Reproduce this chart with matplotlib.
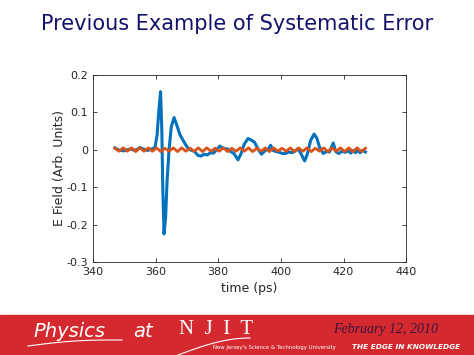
import matplotlib.pyplot as plt
import numpy as np
from matplotlib.patches import Rectangle

# blue trace (time in ps, field in arb. units)
t_blue = [347, 348, 349, 350, 351, 352, 353, 354, 355, 356, 357.5, 359, 359.8,
          360.5, 361, 361.6, 362, 362.3, 362.7, 363.2, 363.7, 364.3, 365, 365.9,
          366.8, 367.8, 369, 370, 371, 372.5, 373.5, 374.5, 375.5, 376.5, 377.5,
          378.5, 379.5, 380.5, 381.5, 383, 384, 385, 386.3, 387.3, 388.3, 389.5,
          390.5, 391.6, 392.5, 393.8, 395, 396, 396.7, 397.5, 398.5, 399.5, 400.5,
          401.5, 402.5, 403.5, 404.5, 405.5, 406.5, 407.6, 408.5, 409.5, 410.6,
          411.5, 412.4, 413.5, 414.5, 415.5, 416.7, 417.5, 418.5, 419.5, 420.5,
          421.5, 422.3, 423, 423.8, 424.5, 425.3, 426, 427]
e_blue = [0.005, 0.0, -0.002, -0.003, 0.0, 0.002, -0.001, 0.0, 0.006, 0.002, -0.002,
          0.003, 0.005, 0.04, 0.10, 0.155, 0.05, -0.10, -0.225, -0.18, -0.08, 0.0,
          0.06, 0.086, 0.065, 0.04, 0.022, 0.008, 0.0, -0.005, -0.015, -0.017,
          -0.012, -0.014, -0.008, -0.009, 0.0, 0.01, 0.004, 0.002, -0.005, -0.01,
          -0.027, -0.01, 0.015, 0.03, 0.026, 0.02, 0.005, -0.012, -0.002, 0.002,
          0.012, -0.002, -0.005, -0.007, -0.01, -0.01, -0.006, -0.008, -0.004,
          0.003, -0.012, -0.03, -0.01, 0.025, 0.042, 0.03, 0.005, -0.01, -0.005,
          -0.006, 0.018, -0.005, -0.01, -0.004, -0.007, -0.003, -0.009, -0.002,
          -0.008, -0.002, -0.008, -0.002, -0.006]

# orange trace, extremes of the small ripple
e_orange = [0.004, -0.004, 0.005, -0.004, 0.005, -0.005, 0.005, -0.004, 0.005, -0.004,
            0.005, -0.005, 0.004, -0.004, 0.005, -0.005, 0.005, -0.004, 0.004, -0.004,
            0.005, -0.005, 0.005, -0.004, 0.004, -0.004, 0.005, -0.005, 0.004, -0.004,
            0.005, -0.004, 0.005, -0.005, 0.004, -0.004, 0.005, -0.005, 0.005, -0.004,
            0.004, -0.004, 0.005, -0.005, 0.005, -0.004, 0.005, -0.005, 0.004, -0.004,
            0.005, -0.005, 0.005, -0.004, 0.005, -0.005, 0.005, -0.005, 0.005, -0.005,
            0.004]
t_orange = np.linspace(347, 427, len(e_orange))

x_ticks = [340, 360, 380, 400, 420, 440]
y_ticks = [-0.3, -0.2, -0.1, 0, 0.1, 0.2]
y_labels = ['-0.3', '-0.2', '-0.1', '0', '0.1', '0.2']

fig = plt.figure(figsize=(4.74, 3.55), dpi=100)

fig.text(0.5, 0.932, 'Previous Example of Systematic Error', ha='center', va='center',
         fontsize=15, color='#12126a', family='DejaVu Sans')

ax = fig.add_axes([0.196, 0.262, 0.661, 0.527])
ax.plot(t_blue, e_blue, color='#0072BD', lw=2.2)
ax.plot(t_orange, e_orange, color='#D95319', lw=2.0)
ax.set_xlim(340, 440)
ax.set_ylim(-0.3, 0.2)
ax.set_xticks(x_ticks)
ax.set_yticks(y_ticks)
ax.set_yticklabels(y_labels)
ax.tick_params(direction='in', top=True, right=True, labelsize=8, colors='#262626',
               length=3, width=0.6)
for s in ax.spines.values():
    s.set_color('#262626')
    s.set_linewidth(0.6)
ax.set_xlabel('time (ps)', fontsize=9, color='#262626', labelpad=4)
ax.set_ylabel('E Field (Arb. Units)', fontsize=9, color='#262626', labelpad=0)

# footer banner
fig.patches.append(Rectangle((0, 0), 1, 40 / 355, transform=fig.transFigure,
                             color='#d42a2f', zorder=0))
fig.text(33 / 474, 1 - 337 / 355, 'Physics', color='white', fontsize=14,
         style='italic', family='DejaVu Sans', va='baseline')
fig.text(133 / 474, 1 - 337 / 355, 'at', color='white', fontsize=14, style='italic',
         family='DejaVu Sans', va='baseline')
fig.text(179 / 474, 1 - 334 / 355, 'N  J  I  T', color='white', fontsize=15,
         family='Liberation Serif', va='baseline')
fig.text(213 / 474, 1 - 349 / 355, "New Jersey's Science & Technology University",
         color='white', fontsize=3.9, va='baseline')
fig.text(333 / 474, 1 - 333 / 355, 'February 12, 2010', color='#3a1540', fontsize=10,
         style='italic', family='Liberation Serif', va='baseline')
fig.text(352 / 474, 1 - 349 / 355, 'THE EDGE IN KNOWLEDGE', color='white', fontsize=5.3,
         style='italic', weight='bold', va='baseline')

# white swooshes
sx = np.linspace(28, 122, 30)
sy = 346 - 6 * (sx - 28) / 94 - 2 * np.sin(np.pi * (sx - 28) / 94)
fig.add_artist(plt.Line2D(sx / 474, 1 - sy / 355, color='white', lw=0.8))
nx = np.linspace(178, 250, 30)
ny = 355 - 17 * np.sin(0.5 * np.pi * (nx - 178) / 72)
fig.add_artist(plt.Line2D(nx / 474, 1 - ny / 355, color='white', lw=0.8))

fig.savefig('out.png', dpi=100)
